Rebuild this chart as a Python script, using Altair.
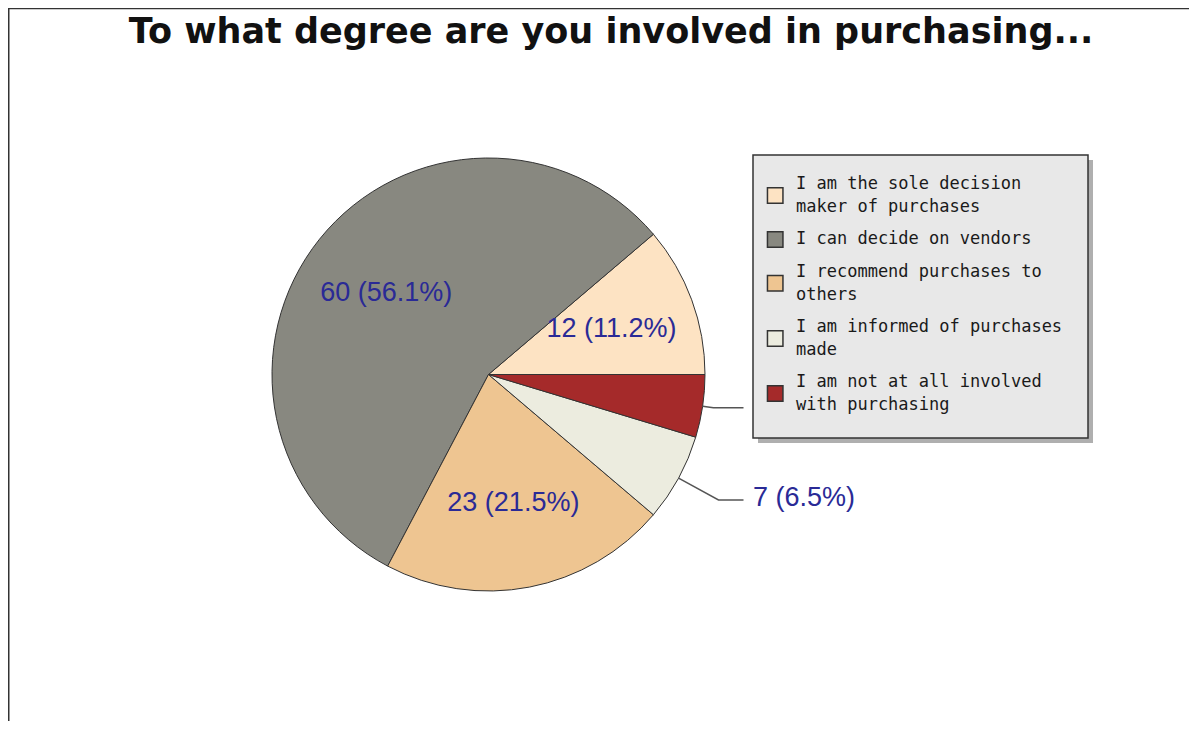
import math
import textwrap
import altair as alt
import pandas as pd

TITLE = "To what degree are you involved in purchasing..."
categories = [
    "I am the sole decision maker of purchases",
    "I can decide on vendors",
    "I recommend purchases to others",
    "I am informed of purchases made",
    "I am not at all involved with purchasing",
]
counts = [12, 60, 23, 7, 5]
colors = ["#FDE3C3", "#888880", "#EEC591", "#ECECDF", "#A52A2A"]
# where each slice label sits: inside the pie, outside with a leader, or hidden behind the legend
label_place = ["in", "in", "in", "out", "hidden"]

W, H = 1181, 713
CX, CY, R = 480.5, 366.5, 216.5
LABEL_FONT = "Liberation Sans"
LABEL_COLOR = "#2A2A96"

total = sum(counts)
labels = [f"{c} ({c / total * 100:.1f}%)" for c in counts]

pie_df = pd.DataFrame({
    "category": categories,
    "count": counts,
    "idx": list(range(len(categories))),
    "inlabel": [(l if p == "in" else "") for l, p in zip(labels, label_place)],
})

color_scale = alt.Scale(domain=categories, range=colors)
theta_scale = alt.Scale(range=[math.pi / 2, math.pi / 2 + 2 * math.pi])

base = alt.Chart(pie_df)
arcs = base.mark_arc(outerRadius=R, stroke="#333333", strokeWidth=1).encode(
    x=alt.value(CX), y=alt.value(CY),
    theta=alt.Theta("count:Q", stack=True, scale=theta_scale),
    color=alt.Color("category:N", scale=color_scale, legend=None),
    order=alt.Order("idx:Q", sort="descending"),
)
in_labels = base.mark_text(radius=131, font=LABEL_FONT, fontSize=27,
                           color=LABEL_COLOR, align="center", baseline="middle").encode(
    x=alt.value(CX), y=alt.value(CY),
    theta=alt.Theta("count:Q", stack=True, scale=theta_scale),
    text="inlabel:N",
    order=alt.Order("idx:Q", sort="descending"),
)

# outside labels with leader lines (computed from slice mid-angles)
mids = {}
cum = 0
for i in reversed(range(len(counts))):
    span = 2 * math.pi * counts[i] / total
    mids[i] = math.pi / 2 + 2 * math.pi * cum / total + span / 2
    cum += counts[i]

lead_rows, out_rows = [], []
for i, p in enumerate(label_place):
    if p == "in":
        continue
    t = mids[i]
    sx, sy = math.sin(t), -math.cos(t)
    ex, ey = CX + R * sx, CY + R * sy
    k = 1.21 if p == "out" else 1.05
    bx, by = CX + k * R * sx, CY + k * R * sy
    lead_rows += [
        {"slice": i, "seq": 0, "x": ex, "y": ey},
        {"slice": i, "seq": 1, "x": bx, "y": by},
        {"slice": i, "seq": 2, "x": CX + 255, "y": by},
    ]
    if p == "out":
        out_rows.append({"x": CX + 264.5, "y": by - 1.5, "label": labels[i]})
lead_df = pd.DataFrame(lead_rows)
out_df = pd.DataFrame(out_rows)

leaders = alt.Chart(lead_df).mark_line(color="#555555", strokeWidth=1.5).encode(
    x=alt.X("x:Q", scale=None, axis=None),
    y=alt.Y("y:Q", scale=None, axis=None),
    detail="slice:N",
    order="seq:Q",
)
out_labels = alt.Chart(out_df).mark_text(font=LABEL_FONT, fontSize=27, color=LABEL_COLOR,
                                         align="left", baseline="middle").encode(
    x=alt.X("x:Q", scale=None, axis=None),
    y=alt.Y("y:Q", scale=None, axis=None),
    text="label:N",
)

# legend
one = pd.DataFrame({"k": [0]})
LX0, LX1, LY0, LY1 = 745, 1080, 147, 430
shadow = alt.Chart(one).mark_rect(fill="#AFAFAF").encode(
    x=alt.value(LX0 + 5), x2=alt.value(LX1 + 5), y=alt.value(LY0 + 5), y2=alt.value(LY1 + 5))
box = alt.Chart(one).mark_rect(fill="#E8E8E8", stroke="#333333", strokeWidth=1.5).encode(
    x=alt.value(LX0), x2=alt.value(LX1), y=alt.value(LY0), y2=alt.value(LY1))

line_rows, sym_rows = [], []
y = 176.3
LH, GAP = 22.3, 32.8
for cat in categories:
    lines = textwrap.wrap(cat, 26)
    first = y
    for j, ln in enumerate(lines):
        line_rows.append({"category": cat, "text": ln, "y": y})
        if j < len(lines) - 1:
            y += LH
    sym_rows.append({"category": cat, "y": (first + y) / 2})
    y += GAP
leg_lines = pd.DataFrame(line_rows)
leg_syms = pd.DataFrame(sym_rows)

symbols = alt.Chart(leg_syms).mark_point(shape="square", filled=True, size=240,
                                         stroke="#333333", strokeWidth=1.5, opacity=1).encode(
    x=alt.value(767.2),
    y=alt.Y("y:Q", scale=None, axis=None),
    fill=alt.Fill("category:N", scale=color_scale, legend=None),
)
leg_text = alt.Chart(leg_lines).mark_text(font="DejaVu Sans Mono", fontSize=17, color="#1A1A1A",
                                          align="left", baseline="middle").encode(
    x=alt.value(788),
    y=alt.Y("y:Q", scale=None, axis=None),
    text="text:N",
)

# frame and title
frame_left = alt.Chart(one).mark_rule(color="#333333", strokeWidth=1.5).encode(
    x=alt.value(0.75), y=alt.value(0), y2=alt.value(H))
frame_top = alt.Chart(one).mark_rule(color="#333333", strokeWidth=1.5).encode(
    x=alt.value(0), x2=alt.value(W), y=alt.value(0.5))
title = alt.Chart(one).mark_text(font="DejaVu Sans", fontWeight="bold", fontSize=35,
                                 color="#111111", align="center", baseline="alphabetic").encode(
    x=alt.value(603), y=alt.value(35), text=alt.value(TITLE))

chart = alt.layer(
    frame_left, frame_top, arcs, in_labels, leaders, out_labels,
    shadow, box, symbols, leg_text, title,
).properties(width=W, height=H, padding=0, autosize="none").configure_view(stroke=None)

chart.save("out.html", embed_options={"renderer": "svg", "actions": False})
